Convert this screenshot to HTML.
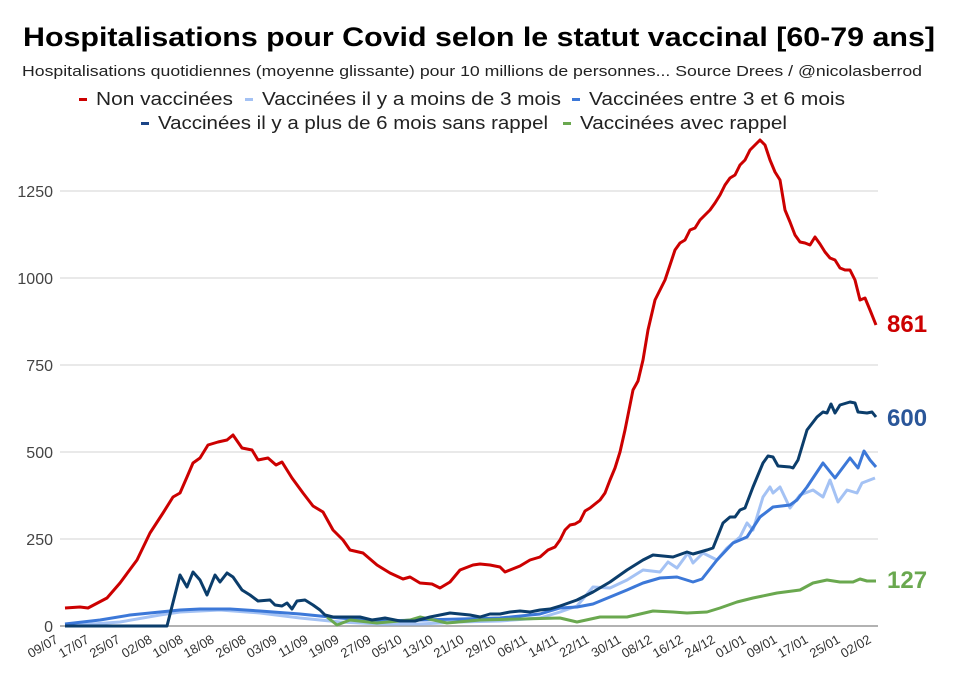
<!DOCTYPE html>
<html><head><meta charset="utf-8"><style>
body{margin:0;background:#fff;width:955px;height:673px;overflow:hidden}
svg{display:block;font-family:"Liberation Sans",Arial,sans-serif}
</style></head><body>
<svg width="955" height="673" viewBox="0 0 955 673">
<text x="23" y="46" textLength="912" lengthAdjust="spacingAndGlyphs" font-size="27" font-weight="bold" fill="#000">Hospitalisations pour Covid selon le statut vaccinal [60-79 ans]</text>
<text x="22" y="76" textLength="900" lengthAdjust="spacingAndGlyphs" font-size="15" fill="#222">Hospitalisations quotidiennes (moyenne glissante) pour 10 millions de personnes... Source Drees / @nicolasberrod</text>
<g font-size="18" fill="#222">
<rect x="79" y="98" width="8" height="3" fill="#cc0000"/><text x="96" y="105" textLength="137" lengthAdjust="spacingAndGlyphs">Non vaccinées</text>
<rect x="245" y="98" width="8" height="3" fill="#a4c2f4"/><text x="262" y="105" textLength="299" lengthAdjust="spacingAndGlyphs">Vaccinées il y a moins de 3 mois</text>
<rect x="572" y="98" width="8" height="3" fill="#3c78d8"/><text x="589" y="105" textLength="256" lengthAdjust="spacingAndGlyphs">Vaccinées entre 3 et 6 mois</text>
<rect x="141" y="122" width="8" height="3" fill="#1c4587"/><text x="158" y="129" textLength="390" lengthAdjust="spacingAndGlyphs">Vaccinées il y a plus de 6 mois sans rappel</text>
<rect x="563" y="122" width="8" height="3" fill="#6aa84f"/><text x="580" y="129" textLength="207" lengthAdjust="spacingAndGlyphs">Vaccinées avec rappel</text>
</g>
<g stroke="#e2e2e2" stroke-width="1.5">
<line x1="60" y1="191" x2="878" y2="191"/><line x1="60" y1="278" x2="878" y2="278"/>
<line x1="60" y1="365" x2="878" y2="365"/><line x1="60" y1="452" x2="878" y2="452"/>
<line x1="60" y1="539" x2="878" y2="539"/>
</g>
<line x1="60" y1="626" x2="878" y2="626" stroke="#999" stroke-width="1.5"/>
<g font-size="16" fill="#444" text-anchor="end">
<text x="53" y="197">1250</text><text x="53" y="284">1000</text><text x="53" y="371">750</text>
<text x="53" y="458">500</text><text x="53" y="545">250</text><text x="53" y="632">0</text>
</g>
<g fill="none" stroke-width="3" stroke-linejoin="round">
<polyline stroke="#a4c2f4" points="65,626 120,622 160,615 180,612 220,610 260,613 300,618 340,622 380,624 420,624 460,622 500,621 540,618 560,612 577,606 593,587 610,588 627,580 643,570 660,572 668,562 677,568 688,553 693,563 703,553 717,560 727,548 740,537 747,523 753,530 763,497 770,487 773,493 780,487 790,508 800,495 813,490 823,497 830,480 838,502 847,490 857,493 862,483 875,478"/>
<polyline stroke="#3c78d8" points="65,624 100,620 130,615 160,612 180,610 200,609 230,609 260,611 300,614 340,618 380,621 420,620 460,619 500,618 540,614 560,608 577,607 593,604 610,597 627,590 643,583 660,578 677,577 693,582 702,579 717,560 733,543 747,537 760,517 773,507 790,505 797,500 807,487 823,463 835,478 850,458 858,468 864,451 870,460 876,467"/>
<polyline stroke="#6aa84f" points="327,617 337,625 350,620 377,623 410,620 420,617 447,623 480,620 520,619 560,618 577,622 600,617 627,617 653,611 673,612 687,613 707,612 720,608 737,602 753,598 777,593 800,590 813,583 827,580 840,582 853,582 860,579 867,581 876,581"/>
<polyline stroke="#0b3d6b" points="65,626 167,626 180,575 187,587 193,572 200,580 207,595 215,575 220,582 227,573 233,577 242,590 250,595 258,601 270,600 275,605 282,606 287,603 292,609 297,601 305,600 313,605 320,610 325,615 333,617 345,617 360,617 372,620 385,618 400,621 415,621 430,617 440,615 450,613 460,614 470,615 480,617 490,614 500,614 510,612 520,611 530,612 540,610 550,609 560,606 577,600 593,592 610,582 627,570 643,560 653,555 673,557 687,552 693,554 707,550 713,548 723,523 730,517 735,517 740,510 745,508 753,487 763,463 768,456 773,457 778,466 790,467 793,468 798,460 807,430 817,417 823,412 827,413 831,404 835,413 840,405 850,402 855,403 858,412 867,413 872,412 876,417"/>
<polyline stroke="#cc0000" points="65,608 80,607 88,608 107,598 120,583 137,560 150,533 163,513 173,497 180,493 187,477 193,463 200,458 208,445 218,442 227,440 233,435 242,448 252,450 258,460 268,458 276,465 282,462 292,478 303,493 313,506 323,512 333,530 343,540 350,550 363,553 377,565 390,573 403,579 410,577 420,583 432,584 440,588 450,582 460,570 473,565 480,564 490,565 500,567 505,572 510,570 520,566 530,560 540,557 548,550 555,547 560,540 565,530 570,525 575,524 580,521 585,511 590,508 600,500 605,493 610,480 615,468 620,452 625,430 630,405 633,390 638,381 643,360 648,330 655,300 660,290 665,280 670,265 675,250 680,243 685,240 690,230 695,228 700,220 705,215 710,210 715,203 720,195 725,185 730,178 735,175 740,165 745,160 750,150 755,145 760,140 765,145 770,160 775,172 780,180 785,210 790,222 795,235 800,242 805,243 810,245 815,237 820,244 825,252 830,258 835,260 840,268 845,270 850,270 855,280 860,300 865,298 870,310 876,325"/>
</g>
<g font-size="24" font-weight="bold">
<text x="887" y="332" fill="#cc0000">861</text>
<text x="887" y="426" fill="#2a5699">600</text>
<text x="887" y="588" fill="#6aa84f">127</text>
</g>
<g font-size="13" fill="#333" text-anchor="end">
<text transform="translate(59,642) rotate(-30)">09/07</text>
<text transform="translate(90,642) rotate(-30)">17/07</text>
<text transform="translate(121,642) rotate(-30)">25/07</text>
<text transform="translate(153,642) rotate(-30)">02/08</text>
<text transform="translate(184,642) rotate(-30)">10/08</text>
<text transform="translate(215,642) rotate(-30)">18/08</text>
<text transform="translate(247,642) rotate(-30)">26/08</text>
<text transform="translate(278,642) rotate(-30)">03/09</text>
<text transform="translate(309,642) rotate(-30)">11/09</text>
<text transform="translate(340,642) rotate(-30)">19/09</text>
<text transform="translate(372,642) rotate(-30)">27/09</text>
<text transform="translate(403,642) rotate(-30)">05/10</text>
<text transform="translate(434,642) rotate(-30)">13/10</text>
<text transform="translate(465,642) rotate(-30)">21/10</text>
<text transform="translate(497,642) rotate(-30)">29/10</text>
<text transform="translate(528,642) rotate(-30)">06/11</text>
<text transform="translate(559,642) rotate(-30)">14/11</text>
<text transform="translate(590,642) rotate(-30)">22/11</text>
<text transform="translate(622,642) rotate(-30)">30/11</text>
<text transform="translate(653,642) rotate(-30)">08/12</text>
<text transform="translate(684,642) rotate(-30)">16/12</text>
<text transform="translate(716,642) rotate(-30)">24/12</text>
<text transform="translate(747,642) rotate(-30)">01/01</text>
<text transform="translate(778,642) rotate(-30)">09/01</text>
<text transform="translate(809,642) rotate(-30)">17/01</text>
<text transform="translate(841,642) rotate(-30)">25/01</text>
<text transform="translate(872,642) rotate(-30)">02/02</text>
</g>
</svg>
</body></html>
